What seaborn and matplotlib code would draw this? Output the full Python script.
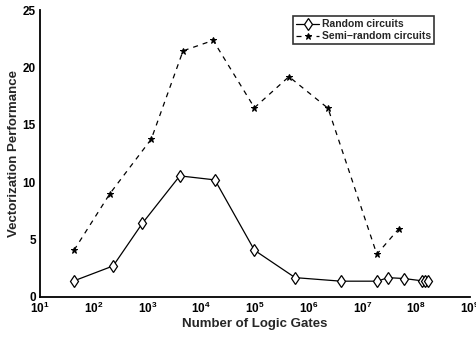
import numpy as np
import pandas as pd
import matplotlib
matplotlib.use("Agg")
import matplotlib.pyplot as plt
import matplotlib.ticker as mticker
import seaborn as sns

# Random circuits
rand_gates = [43, 230, 800, 4000, 18000, 98000, 5.6e5, 4.0e6, 1.9e7, 3.0e7, 6.0e7, 1.30e8, 1.45e8, 1.70e8]
rand_perf = [1.4, 2.7, 6.4, 10.55, 10.2, 4.07, 1.68, 1.37, 1.37, 1.68, 1.6, 1.4, 1.4, 1.35]

# Semi-random circuits
semi_gates = [43, 200, 1180, 4600, 16700, 98000, 4.3e5, 2.3e6, 1.86e7, 4.8e7]
semi_perf = [4.07, 9.0, 13.76, 21.45, 22.36, 16.49, 19.2, 16.44, 3.72, 5.95]

x_label = "Number of Logic Gates"
y_label = "Vectorization Performance"
series_names = ["Random circuits", "Semi\u2212random circuits"]

sns.set_style("white")
plt.rcParams["font.family"] = ["Liberation Sans", "DejaVu Sans"]
plt.rcParams["font.weight"] = "bold"
plt.rcParams["mathtext.fontset"] = "custom"
plt.rcParams["mathtext.rm"] = "Liberation Sans:bold"
plt.rcParams["mathtext.bf"] = "Liberation Sans:bold"
plt.rcParams["mathtext.it"] = "Liberation Sans:bold"

df_rand = pd.DataFrame({"gates": rand_gates, "perf": rand_perf})
df_semi = pd.DataFrame({"gates": semi_gates, "perf": semi_perf})

fig = plt.figure(figsize=(4.76, 3.37), dpi=100)
ax = fig.add_axes([0.084, 0.119, 0.903, 0.851])

sns.lineplot(data=df_rand, x="gates", y="perf", ax=ax, color="black", lw=0.9,
             marker="d", markersize=6.5, markerfacecolor="white",
             markeredgecolor="black", markeredgewidth=0.9,
             label=series_names[0], sort=False)
sns.lineplot(data=df_semi, x="gates", y="perf", ax=ax, color="black", lw=0.9,
             linestyle=(0, (4, 4)), marker="*", markersize=5,
             markerfacecolor="black", markeredgecolor="black",
             label=series_names[1], sort=False)

ax.set_xscale("log")
ax.set_xlim(10, 1e9)
ax.set_ylim(0, 25)
ax.set_yticks([0, 5, 10, 15, 20, 25])
ax.xaxis.set_major_locator(mticker.LogLocator(base=10, numticks=20))
ax.xaxis.set_minor_locator(mticker.LogLocator(base=10, subs=np.arange(2, 10), numticks=20))
ax.xaxis.set_major_formatter(mticker.FuncFormatter(
    lambda v, p: r"$\mathbf{10^{%d}}$" % int(round(np.log10(v)))))
ax.xaxis.set_minor_formatter(mticker.NullFormatter())

for s in ["top", "right"]:
    ax.spines[s].set_visible(False)
for s in ["left", "bottom"]:
    ax.spines[s].set_linewidth(1.3)
    ax.spines[s].set_color("black")

ax.tick_params(axis="both", which="major", direction="in", length=4, width=1.1,
               labelsize=8.5, colors="black", pad=3)
ax.tick_params(axis="x", which="minor", direction="in", length=2, width=0.8)

ax.set_xlabel(x_label, fontsize=9.5, fontweight="bold", labelpad=1.5)
ax.set_ylabel(y_label, fontsize=9.5, fontweight="bold", labelpad=2)

leg = ax.legend(loc="upper right", bbox_to_anchor=(0.925, 0.99), fontsize=7.5,
                frameon=True, fancybox=False, edgecolor="black",
                handlelength=2.2, handletextpad=0.3, borderpad=0.3,
                labelspacing=0.2, borderaxespad=0.3)
leg.get_frame().set_linewidth(1.2)
for t in leg.get_texts():
    t.set_fontweight("bold")

fig.canvas.draw()
plt.setp(ax.get_yticklabels(), fontweight="bold")

fig.savefig("out.png", dpi=100)
